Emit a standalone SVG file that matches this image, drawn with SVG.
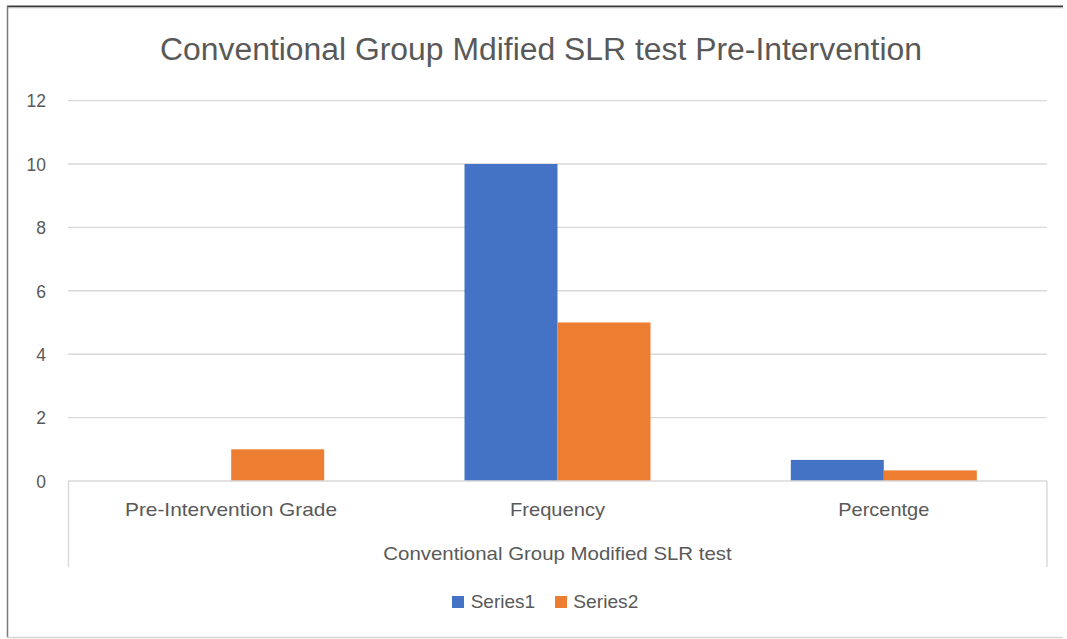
<svg xmlns="http://www.w3.org/2000/svg" width="1067" height="639" viewBox="0 0 1067 639">
  <style>
    .lbl { font-family: "Liberation Sans", Arial, sans-serif; fill: #595959; }
    .grid { stroke: #D9D9D9; stroke-width: 1.4; fill: none; }
    .s1 { fill: #4472C4; }
    .s2 { fill: #ED7D31; }
  </style>

  <!-- chart area -->
  <rect x="0" y="0" width="1067" height="639" fill="#ffffff"/>
  <line x1="7" y1="6.5" x2="1063" y2="6.5" stroke="#3a3a3a" stroke-width="2"/>
  <line x1="7" y1="8" x2="1063" y2="8" stroke="#d8d8d8" stroke-width="1"/>
  <line x1="7.5" y1="6" x2="7.5" y2="638" stroke="#7a7a7a" stroke-width="1.5"/>
  <line x1="7" y1="637.5" x2="1063" y2="637.5" stroke="#d4d4d4" stroke-width="1.5"/>

  <!-- title -->
  <text id="title" class="lbl" x="160" y="60" font-size="31" textLength="762" lengthAdjust="spacingAndGlyphs">Conventional Group Mdified SLR test Pre-Intervention</text>

  <!-- gridlines -->
  <g id="gridlines">
    <line class="grid" x1="68" y1="100.6" x2="1047" y2="100.6"/>
    <line class="grid" x1="68" y1="164" x2="1047" y2="164"/>
    <line class="grid" x1="68" y1="227.4" x2="1047" y2="227.4"/>
    <line class="grid" x1="68" y1="290.8" x2="1047" y2="290.8"/>
    <line class="grid" x1="68" y1="354.2" x2="1047" y2="354.2"/>
    <line class="grid" x1="68" y1="417.6" x2="1047" y2="417.6"/>
  </g>

  <!-- value axis labels -->
  <g id="y-axis" class="lbl" font-size="17.5" text-anchor="end">
    <text x="46" y="107">12</text>
    <text x="46" y="170.5">10</text>
    <text x="46" y="234">8</text>
    <text x="46" y="297.5">6</text>
    <text x="46" y="361">4</text>
    <text x="46" y="424">2</text>
    <text x="46" y="487.5">0</text>
  </g>

  <!-- bars -->
  <g id="series1">
    <rect class="s1" x="464.5" y="164" width="93" height="317"/>
    <rect class="s1" x="790.8" y="459.9" width="93" height="21.1"/>
  </g>
  <g id="series2">
    <rect class="s2" x="231.2" y="449.3" width="93" height="31.7"/>
    <rect class="s2" x="557.5" y="322.5" width="93" height="158.5"/>
    <rect class="s2" x="883.8" y="470.4" width="93" height="10.6"/>
  </g>

  <!-- category axis -->
  <g id="x-axis">
    <line class="grid" x1="68" y1="481" x2="1047" y2="481"/>
    <line class="grid" x1="68.5" y1="481" x2="68.5" y2="567"/>
    <line class="grid" x1="1047" y1="481" x2="1047" y2="567"/>
    <g class="lbl" font-size="18.5">
      <text x="125" y="516" textLength="212" lengthAdjust="spacingAndGlyphs">Pre-Intervention Grade</text>
      <text x="510" y="516" textLength="95" lengthAdjust="spacingAndGlyphs">Frequency</text>
      <text x="838.3" y="516" textLength="91" lengthAdjust="spacingAndGlyphs">Percentge</text>
      <text x="383.3" y="560" textLength="348.4" lengthAdjust="spacingAndGlyphs">Conventional Group Modified SLR test</text>
    </g>
  </g>

  <!-- legend -->
  <g id="legend">
    <rect class="s1" x="452" y="596" width="12" height="12"/>
    <text class="lbl" x="470.7" y="608" font-size="18.5" textLength="64.3" lengthAdjust="spacingAndGlyphs">Series1</text>
    <rect class="s2" x="555" y="596" width="12" height="12"/>
    <text class="lbl" x="573.3" y="608" font-size="18.5" textLength="65" lengthAdjust="spacingAndGlyphs">Series2</text>
  </g>
</svg>
